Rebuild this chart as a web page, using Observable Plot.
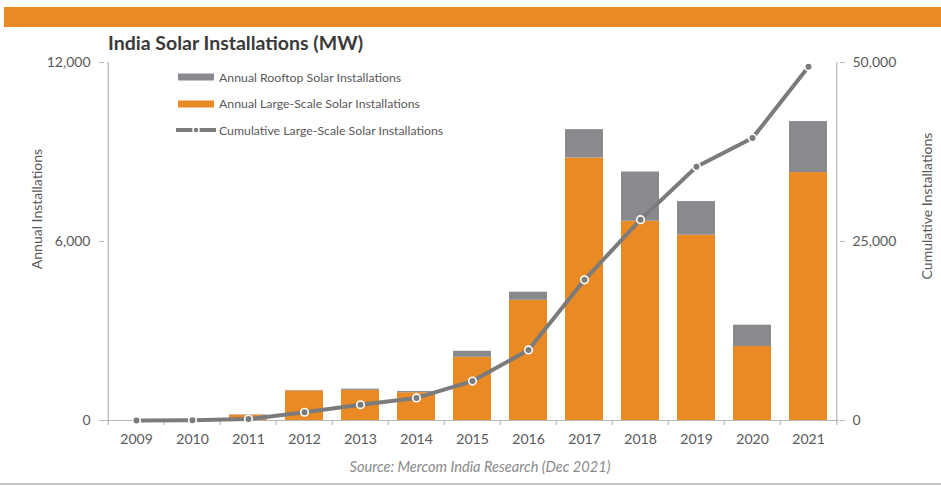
<!DOCTYPE html>
<html>
<head>
<meta charset="utf-8">
<script src="https://cdn.jsdelivr.net/npm/d3@7"></script>
<script src="https://cdn.jsdelivr.net/npm/@observablehq/plot@0.6"></script>
<style>
  body { margin: 0; background: #fff; font-family: Lato, "Open Sans", sans-serif; }
  #wrap { position: relative; width: 941px; height: 486px; overflow: hidden; }
  #band { position: absolute; left: 4px; top: 7px; width: 937px; height: 20px; background: #EA8A24; }
  #title { position: absolute; left: 108px; top: 31px; font-size: 19.5px; font-weight: 700; color: #3a3a3a; white-space: nowrap; }
  #chart { position: absolute; left: 0; top: 0; }
  .ylab { position: absolute; font-size: 14px; color: #595959; white-space: nowrap; transform: translate(-50%, -50%) rotate(-90deg); }
  #legend { position: absolute; left: 176px; top: 64px; font-size: 12.3px; color: #595959; }
  .lrow { display: flex; align-items: center; height: 26.5px; }
  .lrow svg { margin-right: 3px; }
  #caption { position: absolute; left: 0; width: 960px; text-align: center; top: 458px; font-size: 14.6px; font-style: italic; color: #8a8a8a; }
  #bottomline { position: absolute; left: 0; top: 483px; width: 941px; height: 2px; background: #c8c8c8; }
</style>
</head>
<body>
<div id="wrap">
  <div id="band"></div>
  <div id="title">India Solar Installations (MW)</div>
  <div id="chart"></div>
  <div class="ylab" style="left:36px; top:209px;">Annual Installations</div>
  <div class="ylab" style="left:926px; top:206px;">Cumulative Installations</div>
  <div id="legend"></div>
  <div id="caption">Source: Mercom India Research (Dec 2021)</div>
  <div id="bottomline"></div>
</div>
<script>
// ---- data (MW) ----
const years = ["2009","2010","2011","2012","2013","2014","2015","2016","2017","2018","2019","2020","2021"];
const largeScale = [0, 0, 175, 990, 1010, 930, 2120, 4030, 8800, 6680, 6210, 2480, 8310];
const rooftop    = [0, 0, 15, 15, 40, 40, 200, 270, 950, 1650, 1130, 715, 1710];
const cumulativeLargeScale = [0, 30, 200, 1150, 2200, 3150, 5500, 9850, 19650, 28050, 35450, 39450, 49400];
const leftTicks = [0, 6000, 12000];
const rightTicks = [0, 25000, 50000];
const seriesNames = ["Annual Rooftop Solar Installations", "Annual Large-Scale Solar Installations", "Cumulative Large-Scale Solar Installations"];
const seriesColors = ["#898A8E", "#EA8A24", "#7B7B7B"];

const leftMax = 12000, rightMax = 50000;
const toLeft = v => v * leftMax / rightMax;

const barRows = [
  ...years.map((y, i) => ({year: y, series: seriesNames[1], value: largeScale[i]})),
  ...years.map((y, i) => ({year: y, series: seriesNames[0], value: rooftop[i]}))
];
const cumRows = years.map((y, i) => ({year: y, cum: cumulativeLargeScale[i]}));

const W = 941, H = 486;
const mL = 104, mR = 102, mT = 62, mB = 66;
const step = (W - mL - mR) / years.length;
const axisColor = "#b5b5b5";
const textColor = "#595959";

const chart = Plot.plot({
  width: W, height: H,
  marginLeft: mL, marginRight: mR, marginTop: mT, marginBottom: mB,
  style: {fontFamily: "Lato, 'Open Sans', sans-serif", fontSize: "14px", color: textColor, background: "transparent"},
  x: {domain: years, paddingInner: 0.33, paddingOuter: 0.165, align: 0.5},
  y: {domain: [0, leftMax]},
  color: {domain: [seriesNames[1], seriesNames[0]], range: [seriesColors[1], seriesColors[0]]},
  marks: [
    Plot.barY(barRows, {x: "year", y: "value", fill: "series", order: null}),
    // axis lines
    Plot.ruleY([0], {stroke: axisColor, strokeWidth: 1.2}),
    Plot.ruleX([years[0]], {dx: -step / 2, y1: 0, y2: leftMax, stroke: axisColor, strokeWidth: 1.2}),
    Plot.ruleX([years[years.length - 1]], {dx: step / 2, y1: 0, y2: leftMax, stroke: axisColor, strokeWidth: 1.2}),
    // x tick marks at band boundaries
    Plot.ruleX(years, {dx: -step / 2, y1: 0, y2: 0, insetBottom: -5, stroke: axisColor, strokeWidth: 1.2}),
    Plot.ruleX([years[years.length - 1]], {dx: step / 2, y1: 0, y2: 0, insetBottom: -5, stroke: axisColor, strokeWidth: 1.2}),
    Plot.axisX({tickSize: 0, tickPadding: 14, label: null, fill: textColor}),
    Plot.axisY({ticks: leftTicks, tickSize: 5, tickPadding: 9, tickFormat: d3.format(","), label: null, stroke: axisColor, fill: textColor}),
    Plot.axisY({anchor: "right", ticks: rightTicks.map(toLeft), tickSize: 5, tickPadding: 8,
      tickFormat: d => d3.format(",")(Math.round(d * rightMax / leftMax)), label: null, stroke: axisColor, fill: textColor}),
    // cumulative line
    Plot.line(cumRows, {x: "year", y: d => toLeft(d.cum), stroke: seriesColors[2], strokeWidth: 4, strokeLinejoin: "round"}),
    Plot.dot(cumRows, {x: "year", y: d => toLeft(d.cum), r: 3.8, fill: seriesColors[2], stroke: "white", strokeWidth: 1.6})
  ]
});
document.getElementById("chart").appendChild(chart);

// legend
const legend = document.getElementById("legend");
seriesNames.forEach((name, i) => {
  const row = document.createElement("div");
  row.className = "lrow";
  let sw;
  if (i < 2) {
    sw = `<svg width="40" height="10"><rect x="2" y="1.5" width="36" height="7" fill="${seriesColors[i]}"/></svg>`;
  } else {
    sw = `<svg width="40" height="10"><line x1="0" y1="5" x2="40" y2="5" stroke="${seriesColors[2]}" stroke-width="4"/><circle cx="20" cy="5" r="3" fill="${seriesColors[2]}" stroke="white" stroke-width="1.5"/></svg>`;
  }
  row.innerHTML = sw + `<span>${name}</span>`;
  legend.appendChild(row);
});
</script>
</body>
</html>
